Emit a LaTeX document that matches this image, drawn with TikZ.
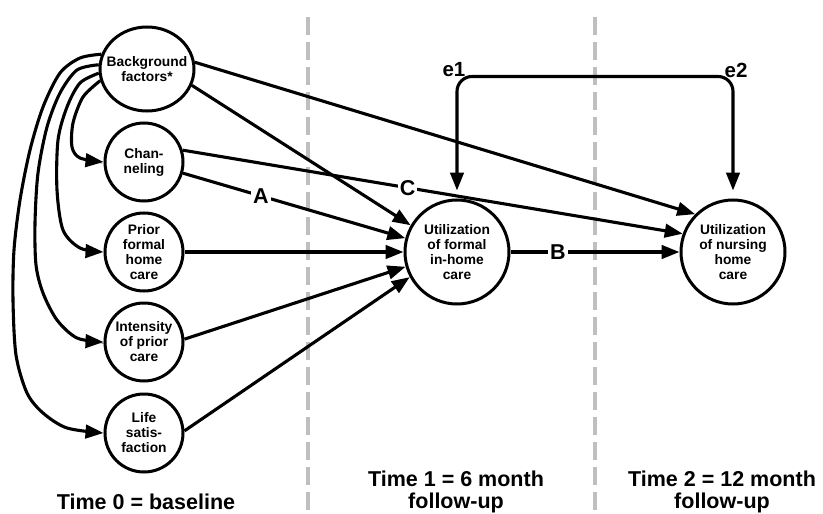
\documentclass[tikz,border=0pt]{standalone}
\usepackage{fontspec}
\setmainfont{Liberation Sans}
\usetikzlibrary{arrows.meta,shapes.geometric}
\begin{document}
\begin{tikzpicture}[x=1pt,y=-1pt,
  every node/.style={inner sep=0pt},
  nodefont/.style={font=\bfseries\fontsize{13.8}{15}\selectfont},
  var/.style={circle,draw,line width=3pt,minimum size=78pt,align=center,nodefont},
  big/.style={var,minimum size=104pt},
  tip/.tip={Triangle[length=18pt,width=13.5pt]},
  conn/.style={line width=3.1pt,-tip},
  lbl/.style={fill=white,inner sep=2pt,font=\bfseries\fontsize{21.5}{21.5}\selectfont},
  elbl/.style={font=\bfseries\fontsize{20.5}{20.5}\selectfont},
  timelbl/.style={align=center,anchor=north,font=\bfseries\fontsize{21.5}{22}\selectfont},
  divider/.style={gray!50,line width=3.5pt,dash pattern=on 18pt off 7pt}]
\useasboundingbox (0,0) rectangle (823,514);

% time dividers
\coordinate (d1top) at (308,17);
\coordinate (d1bot) at (308,514);
\coordinate (d2top) at (595,17);
\coordinate (d2bot) at (595,514);
\draw[divider] (d1top) -- (d1bot);
\draw[divider] (d2top) -- (d2bot);

% nodes
\node[ellipse,draw,line width=3pt,minimum width=94pt,minimum height=84pt,
      inner xsep=-14pt,inner ysep=-6pt,align=center,nodefont] (bg) at (147,69) {Background\\factors*};
\node[var] (chan) at (144,162) {Chan-\\neling};
\node[var] (prior) at (144,252) {Prior\\formal\\home\\care};
\node[var] (int) at (144,342) {Intensity\\of prior\\care};
\node[var] (life) at (144,433) {Life\\satis-\\faction};
\node[big] (formal) at (457,252) {Utilization\\of formal\\in-home\\care};
\node[big] (nursing) at (733,252) {Utilization\\of nursing\\home\\care};

% curved arrows from background factors
\draw[conn] plot[smooth] coordinates {(bg.162) (80,58) (60,73) (43,107) (30,150) (20,200) (14,250) (13,300) (16,355) (27,393) (43,413) (67,428) (life.west)};
\draw[conn] plot[smooth] coordinates {(bg.175) (77,70) (60,93) (47,127) (38,173) (35,223) (36,265) (43,293) (57,320) (77,338) (int.west)};
\draw[conn] plot[smooth] coordinates {(bg.185) (80,83) (67,107) (58,140) (57,190) (63,230) (80,248) (prior.west)};
\draw[conn] plot[smooth] coordinates {(bg.194) (83,97) (73,123) (72,147) (80,158) (chan.west)};

% straight arrows
\draw[conn] (bg.-20) -- (formal.150);
\draw[conn] (bg.8) -- (nursing.135);
\draw[conn] (chan.17.5) -- node[lbl,pos=0.45] {C} (nursing.160);
\draw[conn] (chan.-16) -- node[lbl,pos=0.35] {A} (formal.165.5);
\draw[conn] (prior.east) -- (formal.west);
\draw[conn] (int.4) -- (formal.-164.5);
\draw[conn] (life.3) -- (formal.-152);
\draw[conn] (formal.east) -- node[lbl,pos=0.28] {B} (nursing.west);

% error terms
\node[elbl] (e1) at (454,70) {e1};
\node[elbl] (e2) at (736,70) {e2};
\draw[line width=3.1pt,tip-tip,rounded corners=15pt,shorten <=8pt,shorten >=8pt]
  (formal.north) -- ++(0,-122) -| (nursing.north);

% time labels
\node[timelbl] (t0) at (146,494) {Time 0 = baseline};
\node[timelbl] (t1) at (456,471) {Time 1 = 6 month\\follow-up};
\node[timelbl] (t2) at (722,471) {Time 2 = 12 month\\follow-up};
\end{tikzpicture}
\end{document}
